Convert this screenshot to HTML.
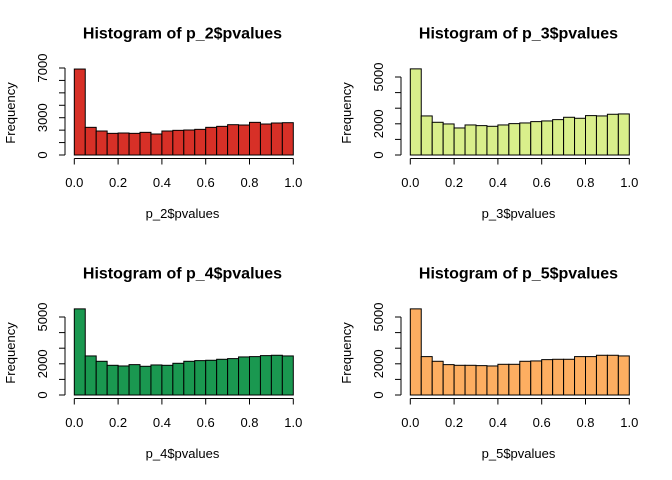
<!DOCTYPE html>
<html><head><meta charset="utf-8"><style>
body{margin:0;background:#fff;}
svg{display:block;font-family:"Liberation Sans",Arial,sans-serif;}
</style></head><body>
<svg id="c" width="672" height="480" viewBox="0 0 672 480"></svg>
<script>
const binEdges = [0,0.05,0.1,0.15,0.2,0.25,0.3,0.35,0.4,0.45,0.5,0.55,0.6,0.65,0.7,0.75,0.8,0.85,0.9,0.95,1.0];
const xTicks = [0,0.2,0.4,0.6,0.8,1.0];
const xTickLabels = ["0.0","0.2","0.4","0.6","0.8","1.0"];
const countsP2 = [6915,2225,1930,1742,1769,1742,1823,1689,1930,1984,2011,2064,2225,2305,2439,2412,2627,2493,2574,2600];
const countsP3 = [5521,2504,2097,1990,1733,1926,1883,1840,1926,2011,2054,2140,2183,2268,2418,2354,2525,2504,2611,2632];
const countsP4 = [5521,2504,2161,1904,1861,1947,1840,1926,1904,2033,2161,2204,2226,2290,2333,2440,2461,2525,2547,2504];
const countsP5 = [5521,2461,2161,1947,1904,1904,1883,1861,1968,1968,2161,2183,2268,2290,2290,2461,2461,2547,2547,2504];
const yTicksP2 = [0,1000,2000,3000,4000,5000,6000,7000];
const yTickLabelsP2 = ["0","","","3000","","","","7000"];
const yTicksOther = [0,1000,2000,3000,4000,5000];
const yTickLabelsOther = ["0","","2000","","","5000"];

const svg = document.getElementById('c');
const NS = 'http://www.w3.org/2000/svg';
function mk(tag, attrs, parent){const e=document.createElementNS(NS,tag);for(const k in attrs)e.setAttribute(k,attrs[k]);(parent||svg).appendChild(e);return e;}

function panel(name, ox, oy, counts, color, pxPer1000, yTicks, yLabels, xlabel){
  const g = mk('g',{});
  
  
  const x0 = 74.3+ox, x1 = 293.3+ox, yBase = 155+oy, yAxisX = 65+ox;
  const sx = v => x0 + v*(x1-x0);
  const sy = v => yBase - v/1000*pxPer1000;
  const t = mk('text',{x:182.5+ox,y:38.5+oy,'text-anchor':'middle','font-size':'16','font-weight':'bold'},g);
  t.textContent = 'Histogram of '+xlabel;
  
  
  for(let i=0;i<counts.length;i++){
    const r = mk('rect',{x:sx(binEdges[i]),y:sy(counts[i]),width:sx(binEdges[i+1])-sx(binEdges[i]),height:yBase-sy(counts[i]),fill:color,stroke:'#000','stroke-width':'1'},g);
    
    
  }
  const ya = mk('g',{},g);
  
  
  mk('line',{x1:yAxisX,x2:yAxisX,y1:sy(yTicks[0]),y2:sy(yTicks[yTicks.length-1]),stroke:'#000'},ya);
  yTicks.forEach((v,i)=>{
    mk('line',{x1:yAxisX-6,x2:yAxisX,y1:sy(v),y2:sy(v),stroke:'#000'},ya);
    if(yLabels[i]){const tx=mk('text',{x:0,y:0,'font-size':'13','text-anchor':'middle',transform:`translate(${yAxisX-18},${sy(v)}) rotate(-90)`},ya);tx.textContent=yLabels[i];}
  });
  const xa = mk('g',{},g);
  
  
  const xay = yBase+3.5;
  mk('line',{x1:sx(0),x2:sx(1),y1:xay,y2:xay,stroke:'#000'},xa);
  xTicks.forEach((v,i)=>{
    mk('line',{x1:sx(v),x2:sx(v),y1:xay,y2:xay+6,stroke:'#000'},xa);
    const tx=mk('text',{x:sx(v),y:yBase+32,'font-size':'13','text-anchor':'middle'},xa);tx.textContent=xTickLabels[i];
  });
  const xl = mk('text',{x:182.5+ox,y:218+oy,'font-size':'13','text-anchor':'middle'},g);
  xl.textContent = xlabel;
  
  
  const yl = mk('text',{x:0,y:0,'font-size':'13','text-anchor':'middle',transform:`translate(${15+ox},${113+oy}) rotate(-90)`},g);
  yl.textContent = 'Frequency';
  
  
}
panel('histogram-p2',0,0,countsP2,'#d73027',12.43,yTicksP2,yTickLabelsP2,'p_2$pvalues');
panel('histogram-p3',336,0,countsP3,'#d9ef8b',15.6,yTicksOther,yTickLabelsOther,'p_3$pvalues');
panel('histogram-p4',0,240,countsP4,'#1a9850',15.6,yTicksOther,yTickLabelsOther,'p_4$pvalues');
panel('histogram-p5',336,240,countsP5,'#fdae61',15.6,yTicksOther,yTickLabelsOther,'p_5$pvalues');
</script>
</body></html>
